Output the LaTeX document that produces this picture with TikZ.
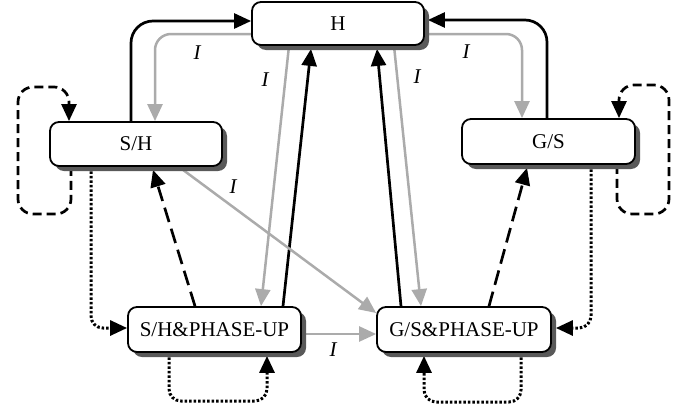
\documentclass[tikz,border=0pt]{standalone}
\usepackage{fontspec}
\setmainfont{Liberation Serif}
\usetikzlibrary{arrows.meta,shadows,calc}
\pgfdeclarelayer{background}
\pgfsetlayers{background,main}
\begin{document}
\begin{tikzpicture}[x=1pt,y=-1pt,
  box/.style={draw=black, line width=1.8pt, rounded corners=9pt, fill=white,
    font=\fontsize{21}{25}\selectfont, inner sep=0pt,
    drop shadow={shadow xshift=5pt, shadow yshift=-5pt, fill=black!65, opacity=1}},
  tip/.style={-{Triangle[length=17pt,width=15pt]}},
  blk/.style={tip, draw=black, line width=2.7pt},
  gry/.style={tip, draw=black!33, line width=2.5pt},
  dsh/.style={blk, dash pattern=on 9pt off 5pt},
  ldsh/.style={blk, dash pattern=on 15pt off 7pt},
  dotl/.style={tip, draw=black, line width=3pt, dash pattern=on 2.5pt off 2pt},
  lbl/.style={font=\fontsize{21}{25}\selectfont\itshape, inner sep=0pt}]
\useasboundingbox (0,0) rectangle (694,410);

\node[box, minimum width=172pt, minimum height=43pt] (H) at (338,23.5) {H};
\node[box, minimum width=172pt, minimum height=44pt] (SH) at (136,144) {S/H};
\node[box, minimum width=173pt, minimum height=45pt] (GS) at (548.5,141.5) {G/S};
\node[box, minimum width=173pt, minimum height=45pt] (SHP) at (214.5,329.5) {S/H\&PHASE-UP};
\node[box, minimum width=174pt, minimum height=45pt] (GSP) at (464,329.5) {G/S\&PHASE-UP};

\node[lbl] (i1) at (197,53) {I};
\node[lbl] (i2) at (466,52) {I};
\node[lbl] (i3) at (265,80) {I};
\node[lbl] (i4) at (417,77) {I};
\node[lbl] (i5) at (233,187) {I};
\node[lbl] (i6) at (333,350) {I};

\begin{pgfonlayer}{background}
% top connections
\draw[blk, rounded corners=22pt] (131,0 |- SH.north) |- (H.west |- 0,21);
\draw[gry, rounded corners=16pt] (H.west |- 0,34) -| (155,0 |- SH.north);
\draw[blk, rounded corners=22pt] (547,0 |- GS.north) |- ($(H.east |- 0,20)+(3,0)$);
\draw[gry, rounded corners=16pt] (H.east |- 0,34) -| (522,0 |- GS.north);
% self loops dashed
\draw[dsh, rounded corners=15pt] (71,0 |- SH.south) -- (71,214) -- (18,214) -- (18,87) -- (69,87) -- (69,0 |- SH.north);
\draw[dsh, rounded corners=15pt] (617,0 |- GS.south) -- (617,214) -- (669,214) -- (669,85) -- (619,85) -- (619,0 |- GS.north);
% dotted
\draw[dotl, rounded corners=12pt] (91,0 |- SH.south) |- (SHP.west |- 0,328);
\draw[dotl, rounded corners=12pt] (591,0 |- GS.south) |- ($(GSP.east |- 0,328)+(4,0)$);
\draw[dotl, rounded corners=12pt] (169,0 |- SHP.south) -- (169,401) -- (267,401) -- ($(267,0 |- SHP.south)+(0,3)$);
\draw[dotl, rounded corners=12pt] (521,0 |- GSP.south) -- (521,402) -- (424,402) -- ($(424,0 |- GSP.south)+(0,3)$);
% long dashed
\draw[ldsh] (195,0 |- SHP.north) -- ($(153,0 |- SH.south)+(0,3)$);
\draw[ldsh] (489,0 |- GSP.north) -- ($(527,0 |- GS.south)+(0,3)$);
% verticals to H
\draw[gry] (289,0 |- H.south) -- (261,0 |- SHP.north);
\draw[blk] (283,0 |- SHP.north) -- ($(311,0 |- H.south)+(0,3)$);
\draw[blk] (401,0 |- GSP.north) -- ($(377,0 |- H.south)+(0,3)$);
\draw[gry] (394,0 |- H.south) -- (421,0 |- GSP.north);
% gray to GSP
\draw[gry] (179,0 |- SH.south) -- (GSP.west |- 0,313);
\draw[gry] (SHP.east |- 0,334) -- (GSP.west |- 0,334);
\end{pgfonlayer}
\end{tikzpicture}
\end{document}
